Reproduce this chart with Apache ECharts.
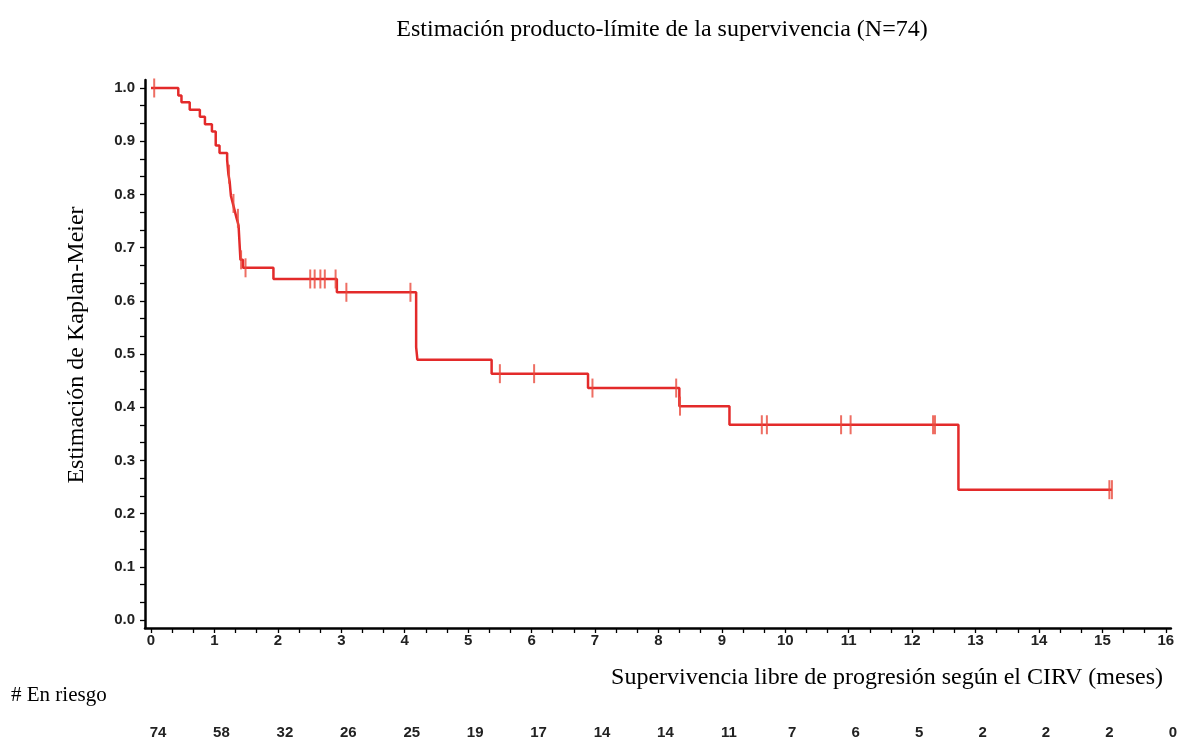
<!DOCTYPE html>
<html>
<head>
<meta charset="utf-8">
<script src="https://cdn.jsdelivr.net/npm/echarts@6/dist/echarts.min.js"></script>
<style>
  html, body { margin: 0; padding: 0; background: #fff; }
  #km-chart { width: 1180px; height: 742px; }
</style>
</head>
<body>
<div id="km-chart"></div>
<script>
// curva KM: tiempo del escalón (meses) y supervivencia después del escalón
const stepTimes = [0, 0.43, 0.48, 0.61, 0.77, 0.85, 0.96, 1.02, 1.08, 1.20, 1.21, 1.22, 1.24, 1.25, 1.26, 1.29, 1.32, 1.35, 1.38, 1.41, 1.45, 1.93, 2.93, 4.18, 4.20, 5.37, 6.89, 8.33, 9.12, 12.73, 15.15];
const stepSurv  = [1.0, 0.986, 0.973, 0.959, 0.946, 0.932, 0.918, 0.892, 0.878, 0.865, 0.851, 0.838, 0.824, 0.81, 0.797, 0.783, 0.769, 0.755, 0.742, 0.677, 0.662, 0.641, 0.616, 0.513, 0.489, 0.463, 0.436, 0.402, 0.367, 0.245, 0.245];

// observaciones censuradas
const censorTimes = [0.05, 1.23, 1.30, 1.37, 1.42, 1.49, 2.51, 2.58, 2.67, 2.74, 2.91, 3.08, 4.09, 5.50, 6.04, 6.96, 8.28, 8.34, 9.63, 9.71, 10.88, 11.03, 12.33, 12.36, 15.11, 15.15];
const censorSurv  = [1.0, 0.838, 0.783, 0.755, 0.677, 0.662, 0.641, 0.641, 0.641, 0.641, 0.641, 0.616, 0.616, 0.463, 0.463, 0.436, 0.436, 0.402, 0.367, 0.367, 0.367, 0.367, 0.367, 0.367, 0.245, 0.245];

// marcas de los ejes
const xTicks = [0, 1, 2, 3, 4, 5, 6, 7, 8, 9, 10, 11, 12, 13, 14, 15, 16];
const yTicks = [0, 0.1, 0.2, 0.3, 0.4, 0.5, 0.6, 0.7, 0.8, 0.9, 1.0];

// pacientes en riesgo en 0,1,...,16 meses
const atRisk = [74, 58, 32, 26, 25, 19, 17, 14, 14, 11, 7, 6, 5, 2, 2, 2, 0];

// marcas menores: tres divisiones por intervalo
function withThirds(ticks) {
  const out = [];
  ticks.forEach((v, i) => {
    out.push(v);
    if (i < ticks.length - 1) {
      const step = ticks[i + 1] - v;
      out.push(v + step / 3, v + 2 * step / 3);
    }
  });
  return out;
}

const chart = echarts.init(document.getElementById('km-chart'));
const serif = '"Liberation Serif", "DejaVu Serif", serif';
const sans = '"Liberation Sans", Arial, sans-serif';
const tickLabel = { color: '#222', fontFamily: sans, fontWeight: 'bold', fontSize: 15 };

chart.setOption({
  backgroundColor: '#fff',
  animation: false,
  title: [
    { text: 'Estimación producto-límite de la supervivencia (N=74)', left: 657, top: 13, textAlign: 'center',
      textStyle: { fontFamily: serif, fontWeight: 'normal', fontSize: 24, color: '#000' } },
    { text: 'Supervivencia libre de progresión según el CIRV (meses)', right: 12, top: 661,
      textStyle: { fontFamily: serif, fontWeight: 'normal', fontSize: 24, color: '#000' } },
    { text: '# En riesgo', left: 6, top: 680,
      textStyle: { fontFamily: serif, fontWeight: 'normal', fontSize: 21, color: '#000' } },
  ],
  grid: { left: 145, right: 8, top: 80, bottom: 114, containLabel: false },
  xAxis: [
    {
      type: 'value', min: -0.095, max: 16.08,
      axisLine: { onZero: false, lineStyle: { color: '#000', width: 2.5 } },
      axisTick: { length: 5, customValues: withThirds(xTicks), lineStyle: { color: '#000', width: 1.3 } },
      splitLine: { show: false },
      axisLabel: Object.assign({ margin: 5, customValues: xTicks, showMinLabel: true, showMaxLabel: true }, tickLabel),
    },
    {
      type: 'value', min: -0.095, max: 16.08, offset: 92, position: 'bottom',
      axisLine: { show: false, onZero: false }, axisTick: { show: false }, splitLine: { show: false },
      axisLabel: Object.assign({ margin: 5, padding: [0, 0, 0, 14], customValues: xTicks,
        formatter: v => atRisk[xTicks.indexOf(Math.round(v))] }, tickLabel),
    },
  ],
  yAxis: {
    type: 'value', min: -0.015, max: 1.015,
    name: 'Estimación de Kaplan-Meier', nameLocation: 'middle', nameGap: 56,
    nameTextStyle: { fontFamily: serif, fontSize: 24, color: '#000', padding: [0, 0, 0, 18] },
    axisLine: { show: true, onZero: false, lineStyle: { color: '#000', width: 2.5 } },
    axisTick: { show: true, length: 5, customValues: withThirds(yTicks), lineStyle: { color: '#000', width: 1.3 } },
    splitLine: { show: false },
    axisLabel: Object.assign({ margin: 10, customValues: yTicks, formatter: v => v.toFixed(1) }, tickLabel),
  },
  series: [
    {
      type: 'line', step: 'end', xAxisIndex: 0,
      data: stepTimes.map((t, i) => [t, stepSurv[i]]),
      showSymbol: false, symbol: 'none',
      lineStyle: { color: '#e32a2a', width: 2.5 },
      z: 3,
    },
    {
      type: 'scatter', xAxisIndex: 0,
      data: censorTimes.map((t, i) => [t, censorSurv[i]]),
      symbol: 'rect', symbolSize: [2, 19],
      itemStyle: { color: '#ea4a3c' },
      z: 4,
    },
  ],
});
</script>
</body>
</html>
